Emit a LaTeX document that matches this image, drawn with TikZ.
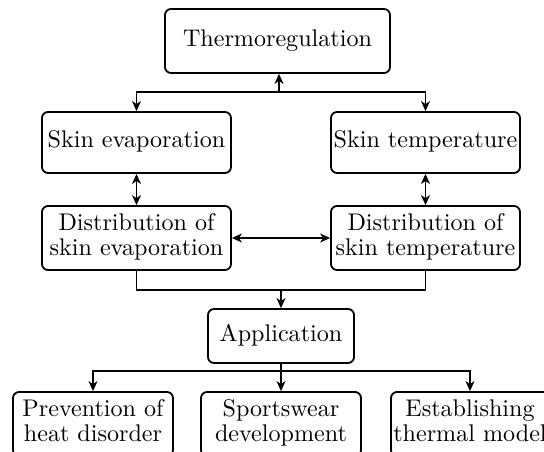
\documentclass[tikz,border=0pt]{standalone}
\usetikzlibrary{arrows.meta}
\newcommand{\bt}[1]{\scalebox{2.41}{\renewcommand{\arraystretch}{0.88}\begin{tabular}{@{}c@{}}#1\end{tabular}}}
\begin{document}
\begin{tikzpicture}[x=1pt,y=-1pt,
  box/.style={draw,line width=1.8pt,rounded corners=6pt,inner sep=0pt,align=center},
  tip/.style={},
  conn/.style={line width=1.2pt,-{Stealth[length=10pt,width=9pt,inset=3pt]}},
  dconn/.style={line width=1.2pt,{Stealth[length=10pt,width=9pt,inset=3pt]}-{Stealth[length=10pt,width=9pt,inset=3pt]}},
  plain/.style={line width=1.2pt}]
\useasboundingbox (0,0) rectangle (544,452);
\node[box,minimum width=225pt,minimum height=64pt] (thermo) at (277.5,41) {\bt{Thermoregulation}};
\node[box,minimum width=189pt,minimum height=61pt] (skinevap) at (136.5,142.5) {\bt{Skin evaporation}};
\node[box,minimum width=189pt,minimum height=61pt] (skintemp) at (425.5,142.5) {\bt{Skin temperature}};
\node[box,minimum width=189pt,minimum height=64pt] (distevap) at (136.5,238) {\bt{Distribution of\\skin evaporation}};
\node[box,minimum width=189pt,minimum height=64pt] (disttemp) at (425.5,238) {\bt{Distribution of\\skin temperature}};
\node[box,minimum width=146pt,minimum height=54pt] (app) at (281,336) {\bt{Application}};
\node[box,minimum width=160pt,minimum height=64pt] (prev) at (93,424) {\bt{Prevention of\\heat disorder}};
\node[box,minimum width=160pt,minimum height=64pt] (sport) at (281,424) {\bt{Sportswear\\development}};
\node[box,minimum width=158pt,minimum height=64pt] (estab) at (470,424) {\bt{Establishing\\thermal model}};
\coordinate (tj) at (279,92);
\coordinate (bj) at (281,290);
\coordinate (aj) at (281,371);
\draw[dconn] (skinevap.north) |- (tj) -| (skintemp.north);
\draw[conn] (tj) -- (tj |- thermo.south);
\draw[dconn] (skinevap) -- (distevap);
\draw[dconn] (skintemp) -- (disttemp);
\draw[dconn] (distevap) -- (disttemp);
\draw[plain] (distevap.south) |- (bj) -| (disttemp.south);
\draw[conn] (bj) -- (app.north);
\draw[conn] (app.south) -- (sport.north);
\draw[conn] (aj) -| (prev.north);
\draw[conn] (aj) -| (estab.north);
\end{tikzpicture}
\end{document}
